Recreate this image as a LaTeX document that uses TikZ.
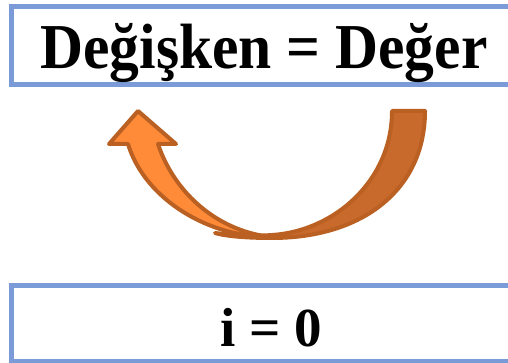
\documentclass[tikz,border=0pt]{standalone}
\usepackage{fontspec}
\setmainfont{Liberation Serif}
\definecolor{boxblue}{RGB}{122,155,216}
\definecolor{arrlight}{RGB}{255,138,56}
\definecolor{arrdark}{RGB}{200,106,44}
\definecolor{arrline}{RGB}{186,96,34}
\begin{document}
\begin{tikzpicture}[x=1pt,y=-1pt,
  framebox/.style={draw=boxblue,line width=5pt,inner sep=0pt,fill=white},
  bigtext/.style={font=\bfseries\fontsize{64}{64}\selectfont,inner sep=0pt,anchor=base,xscale=0.93},
  smalltext/.style={font=\bfseries\fontsize{55}{55}\selectfont,inner sep=0pt,anchor=base},
  arrowpart/.style={draw=arrline,line width=4pt,line join=round}]
\useasboundingbox (0,0) rectangle (508,363);
\begin{scope}
\clip (0,0) rectangle (508,363);
\node[framebox,minimum width=508.5pt,minimum height=78pt] (topbox) at (265.75,45.5) {};
\node[framebox,minimum width=508.5pt,minimum height=76pt] (botbox) at (265.75,323.5) {};
\end{scope}
\node[bigtext] (toptext) at (264,69) {Değişken = Değer};
\node[smalltext] (bottext) at (271,346) {i = 0};
% back (dark) part of the curved arrow
\path[arrowpart,fill=arrdark] (392,111) -- (425,111)
  .. controls (425,190) and (362,238) .. (272,238)
  .. controls (245,238) and (225,236) .. (215,233)
  .. controls (240,236) and (260,236) .. (272,235)
  .. controls (335,231) and (392,180) .. (392,111) -- cycle;
% front (light) part with arrow head
\path[arrowpart,fill=arrlight] (128,144) -- (109,144) -- (138,111) -- (176,144) -- (158,144)
  .. controls (175,195) and (220,232) .. (272,237)
  .. controls (210,238) and (145,200) .. (128,144) -- cycle;
\end{tikzpicture}
\end{document}
